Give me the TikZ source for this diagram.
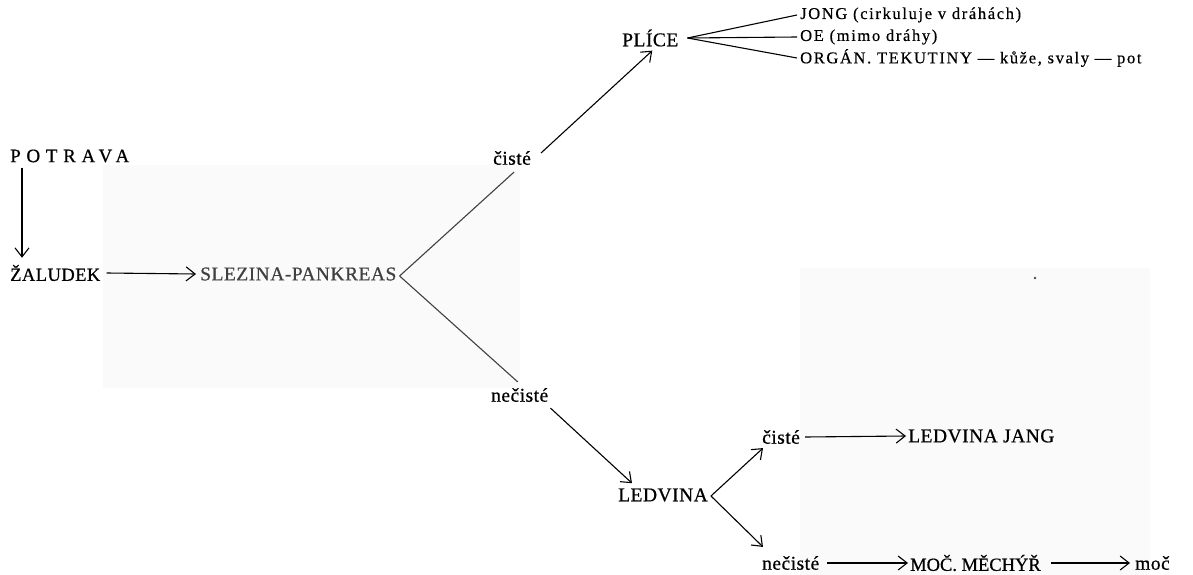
\documentclass[tikz,border=0pt]{standalone}
\usepackage{fontspec}
\setmainfont{Liberation Serif}
\newfontfamily\labfont[LetterSpace=2.5,FakeBold=0.6]{Liberation Serif}
\newfontfamily\tightfont[LetterSpace=0,FakeBold=0.6]{Liberation Serif}
\newfontfamily\smallfont[LetterSpace=10,FakeBold=0.5]{Liberation Serif}
\newfontfamily\widefont[LetterSpace=30,FakeBold=0.6]{Liberation Serif}
\usetikzlibrary{arrows.meta,calc}
\begin{document}
\begin{tikzpicture}[x=1pt,y=-1pt,
  lab/.style={inner sep=0pt,anchor=west,font=\labfont\fontsize{19.5}{21}\selectfont},
  sub/.style={inner sep=0pt,anchor=west,font=\smallfont\fontsize{16.5}{18}\selectfont},
  conn/.style={line width=1.1pt},
  arr/.style={conn,-{Straight Barb[length=9pt,width=14pt,line width=1.1pt]}}]
\useasboundingbox (0,0) rectangle (1193,575);
% faint paper tone behind parts of the page
\fill[black!2] (103,165) rectangle (520,388);
\fill[black!2] (800,268) rectangle (1150,575);
\fill[black!70] (1035,278) circle (1.4pt);

% nodes
\node[lab,font=\widefont\fontsize{19}{21}\selectfont] (pot) at (10,156) {POTRAVA};
\node[lab,font=\labfont\fontsize{18.5}{20}\selectfont] (zal) at (10,273) {ŽALUDEK};
\node[lab,text=black!75] (slez) at (200,274) {SLEZINA-PANKREAS};
\node[lab] (cis1) at (493,158) {čisté};
\node[lab] (nec1) at (491,395) {nečisté};
\node[lab] (plice) at (622,38) {PLÍCE};
\node[sub] (jong) at (800,15) {JONG (cirkuluje v dráhách)};
\node[sub] (oe) at (800,37) {OE (mimo dráhy)};
\node[sub] (org) at (800,58) {ORGÁN. TEKUTINY — kůže, svaly — pot};
\node[lab] (ledv) at (618,495) {LEDVINA};
\node[lab] (cis2) at (762,437) {čisté};
\node[lab] (nec2) at (762,563) {nečisté};
\node[lab] (lj) at (908,436) {LEDVINA JANG};
\node[lab,font=\tightfont\fontsize{18.5}{20}\selectfont] (moc) at (910,563) {MOČ. MĚCHÝŘ};
\node[lab] (moc2) at (1135,563) {moč};

% connectors
\draw[arr] ([xshift=12pt,yshift=-5pt]pot.south west) -- ([xshift=12pt,yshift=7pt]zal.north west);
\draw[arr] ([xshift=6pt]zal.east) -- ([xshift=-4pt]slez.west);
\draw[conn,black!75] ([xshift=3pt,yshift=-2pt]slez.east) -- ([xshift=2pt,yshift=-7pt]cis1.south);
\draw[conn,black!75] ([xshift=3pt,yshift=-2pt]slez.east) -- ([xshift=-2pt,yshift=6pt]nec1.north);
\draw[arr] ([xshift=10pt,yshift=-2pt]cis1.north east) -- ([xshift=2pt,yshift=-4pt]plice.south);
\draw[arr] ([xshift=2pt,yshift=-6pt]nec1.south east) -- ([xshift=14pt,yshift=5pt]ledv.north west);
\draw[arr] ([xshift=3pt,yshift=-1pt]ledv.east) -- ([xshift=1pt,yshift=-4pt]cis2.south west);
\draw[arr] ([xshift=3pt,yshift=-1pt]ledv.east) -- ([xshift=1pt,yshift=9pt]nec2.north west);
\draw[conn] ([xshift=9pt]plice.east) -- ([xshift=-3pt]jong.west);
\draw[conn] ([xshift=9pt]plice.east) -- ([xshift=-3pt]oe.west);
\draw[conn] ([xshift=9pt]plice.east) -- ([xshift=-3pt]org.west);
\draw[arr] ([xshift=5pt]cis2.east) -- ([xshift=-2pt]lj.west);
\draw[arr] ([xshift=8pt]nec2.east) -- ([xshift=-2pt]moc.west);
\draw[arr] ([xshift=10pt]moc.east) -- ([xshift=-5pt]moc2.west);
\end{tikzpicture}
\end{document}
